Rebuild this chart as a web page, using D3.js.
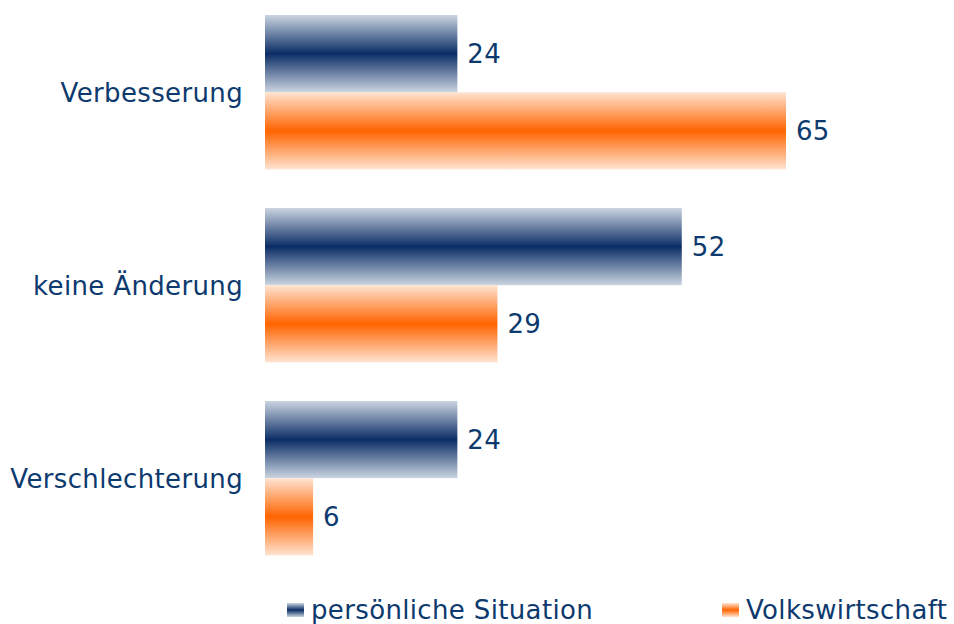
<!DOCTYPE html>
<html>
<head>
<meta charset="utf-8">
<script src="https://cdn.jsdelivr.net/npm/d3@7"></script>
<style>
  body { margin: 0; background: #fff; }
  text { font-family: "DejaVu Sans", Verdana, sans-serif; fill: #0d3a6e; letter-spacing: 0.35px; }
</style>
</head>
<body>
<div id="canvas"></div>
<script>
var categories = ["Verbesserung", "keine Änderung", "Verschlechterung"];
var seriesNames = ["persönliche Situation", "Volkswirtschaft"];
var persoenlich = [24, 52, 24];
var volkswirtschaft = [65, 29, 6];

var width = 954, height = 624;

var svg = d3.select("#canvas").append("svg")
  .attr("width", width)
  .attr("height", height);

// gradients: light at edges, dark in the middle
var defs = svg.append("defs");
var gradColors = [
  { id: "gNavy", edge: "#cbd5e1", mid: "#0b2d66" },
  { id: "gOrange", edge: "#ffe4d2", mid: "#ff6400" }
];
gradColors.forEach(function(c) {
  var g = defs.append("linearGradient")
    .attr("id", c.id)
    .attr("x1", 0).attr("y1", 0).attr("x2", 0).attr("y2", 1);
  g.append("stop").attr("offset", "0%").attr("stop-color", c.edge);
  g.append("stop").attr("offset", "50%").attr("stop-color", c.mid);
  g.append("stop").attr("offset", "100%").attr("stop-color", c.edge);
});

var data = categories.map(function(c, i) {
  return { cat: c, values: [persoenlich[i], volkswirtschaft[i]] };
});

var x = d3.scaleLinear().domain([0, 100]).range([265, 1066.5]);

var y0 = d3.scaleBand()
  .domain(categories)
  .range([-4.3, 574.7])
  .paddingInner(0.2)
  .paddingOuter(0.1);

var y1 = d3.scaleBand()
  .domain([0, 1])
  .range([0, y0.bandwidth()]);

var groups = svg.selectAll(".grp")
  .data(data)
  .enter().append("g")
  .attr("class", "grp")
  .attr("transform", function(d) {
    return "translate(0," + y0(d.cat) + ")";
  });

groups.selectAll("rect")
  .data(function(d) { return d.values; })
  .enter().append("rect")
  .attr("x", x(0))
  .attr("y", function(d, i) { return y1(i); })
  .attr("width", function(d) { return x(d) - x(0); })
  .attr("height", y1.bandwidth())
  .attr("fill", function(d, i) { return "url(#" + gradColors[i].id + ")"; });

groups.selectAll(".val")
  .data(function(d) { return d.values; })
  .enter().append("text")
  .attr("class", "val")
  .attr("x", function(d) { return x(d) + 10; })
  .attr("y", function(d, i) { return y1(i) + y1.bandwidth() / 2; })
  .attr("dy", "0.36em")
  .style("font-size", "26px")
  .text(function(d) { return d; });

// category labels
svg.selectAll(".cat")
  .data(categories)
  .enter().append("text")
  .attr("class", "cat")
  .attr("x", 243)
  .attr("y", function(d) { return y0(d) + y0.bandwidth() / 2; })
  .attr("dy", "0.36em")
  .attr("text-anchor", "end")
  .style("font-size", "26px")
  .text(function(d) { return d; });

// legend
var legendX = [287, 722];
var legend = svg.selectAll(".leg")
  .data(seriesNames)
  .enter().append("g")
  .attr("class", "leg")
  .attr("transform", function(d, i) { return "translate(" + legendX[i] + ",603)"; });

legend.append("rect")
  .attr("width", 17)
  .attr("height", 14)
  .attr("fill", function(d, i) { return "url(#" + gradColors[i].id + ")"; });

legend.append("text")
  .attr("x", 24)
  .attr("y", 7)
  .attr("dy", "0.36em")
  .style("font-size", "26px")
  .text(function(d) { return d; });
</script>
</body>
</html>
